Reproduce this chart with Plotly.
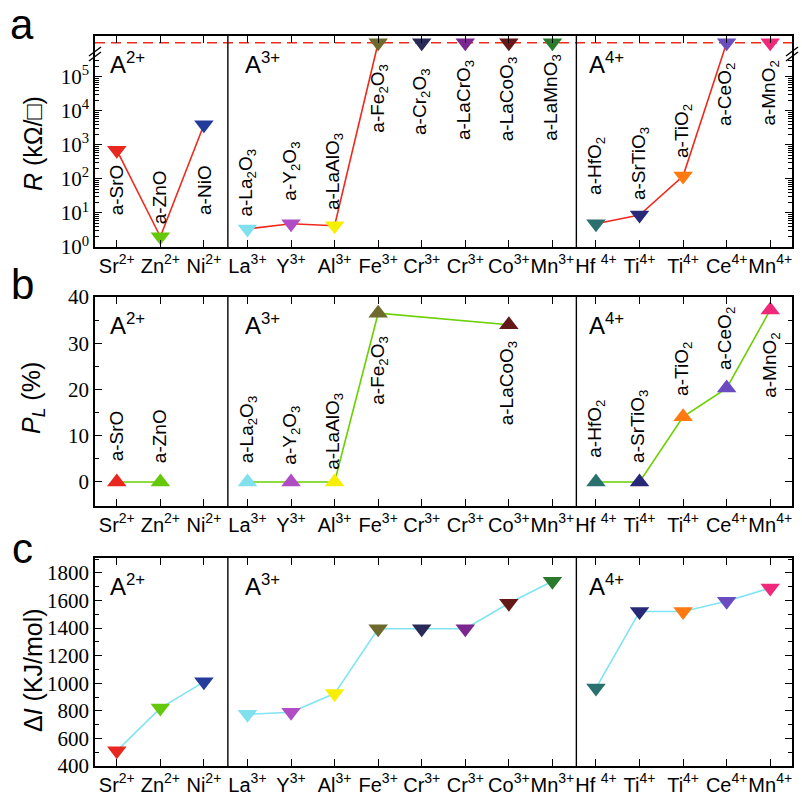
import plotly.graph_objects as go

# ---------------- data ----------------
cations = ["Sr<sup>2+</sup>", "Zn<sup>2+</sup>", "Ni<sup>2+</sup>", "La<sup>3+</sup>", "Y<sup>3+</sup>",
           "Al<sup>3+</sup>", "Fe<sup>3+</sup>", "Cr<sup>3+</sup>", "Cr<sup>3+</sup>", "Co<sup>3+</sup>",
           "Mn<sup>3+</sup>", "Hf <sup>4+</sup>", "Ti<sup>4+</sup>", "Ti<sup>4+</sup>", "Ce<sup>4+</sup>",
           "Mn<sup>4+</sup>"]
materials = ["a-SrO", "a-ZnO", "a-NiO", "a-La<sub>2</sub>O<sub>3</sub>", "a-Y<sub>2</sub>O<sub>3</sub>",
             "a-LaAlO<sub>3</sub>", "a-Fe<sub>2</sub>O<sub>3</sub>", "a-Cr<sub>2</sub>O<sub>3</sub>",
             "a-LaCrO<sub>3</sub>", "a-LaCoO<sub>3</sub>", "a-LaMnO<sub>3</sub>", "a-HfO<sub>2</sub>",
             "a-SrTiO<sub>3</sub>", "a-TiO<sub>2</sub>", "a-CeO<sub>2</sub>", "a-MnO<sub>2</sub>"]
group = [0, 0, 0, 1, 1, 1, 1, 1, 1, 1, 1, 2, 2, 2, 2, 2]
group_names = ["A<sup>2+</sup>", "A<sup>3+</sup>", "A<sup>4+</sup>"]
colors = ["#e8281e", "#66c80a", "#233c9c", "#80e0ee", "#b04cc4", "#f8ee00", "#6e6a2e", "#2a2a58",
          "#7a2890", "#641818", "#2a7a2e", "#2a706e", "#282878", "#ff7a10", "#6a4cc0", "#f0287a"]

R_OFF = 1e6  # off-scale (insulating) value shown above the axis break
R_kohm = [700, 2.0, 3900, 3.4, 4.8, 4.2, R_OFF, R_OFF, R_OFF, R_OFF, R_OFF, 4.8, 8.7, 122, R_OFF, R_OFF]
P_L = [0, 0, None, 0, 0, 0, 36.5, None, None, 34.0, None, 0, 0, 14.1, 20.3, 37.2]
dI = [510, 820, 1010, 775, 790, 925, 1395, 1395, 1395, 1580, 1740, 965, 1520, 1520, 1595, 1690]

# label anchor (bottom of rotated text) positions
lab_a = [0.88, 0.62, 0.88, 0.85, 1.29, 1.03, 3.29, 3.24, 3.09, 3.06, 3.06, 1.47, 1.32, 2.56, 3.5, 3.5]
lab_b = [4.1, 3.7, None, 3.7, 3.2, 2.2, 16.2, None, None, 11.9, None, 4.8, 3.7, 18.2, 23.8, 17.7]

# ---------------- helpers ----------------
W, H = 802, 796
def pxx(x): return x / W
def pyy(y): return 1 - y / H

SANS = "Liberation Sans, Arial, sans-serif"
SERIF = "Liberation Serif, Times New Roman, serif"
N = len(cations)
xs = list(range(N))

fig = go.Figure()

line_a = "#ee2a1c"
line_b = "#6bd000"
line_c = "#80e4f2"

# ---- panel a ----
fig.add_trace(go.Scatter(x=[-0.5, N - 0.5], y=[R_OFF, R_OFF], mode="lines",
                         line=dict(color=line_a, width=1.6, dash="10px,6px"), xaxis="x", yaxis="y",
                         showlegend=False, hoverinfo="skip"))
for g in range(3):
    gx, gy = [], []
    for i in range(N):
        if group[i] != g:
            continue
        gx.append(i)
        gy.append(R_kohm[i])
        if R_kohm[i] >= R_OFF:
            break
    fig.add_trace(go.Scatter(x=gx, y=gy, mode="lines", line=dict(color=line_a, width=1.6),
                             xaxis="x", yaxis="y", showlegend=False))
fig.add_trace(go.Scatter(x=xs, y=R_kohm, mode="markers",
                         marker=dict(symbol="triangle-down", size=17, color=colors, line=dict(width=0)),
                         xaxis="x", yaxis="y", showlegend=False))

# ---- panel b ----
for g in range(3):
    gx = [i for i in range(N) if group[i] == g and P_L[i] is not None]
    gy = [P_L[i] for i in gx]
    fig.add_trace(go.Scatter(x=gx, y=gy, mode="lines", line=dict(color=line_b, width=1.6),
                             xaxis="x2", yaxis="y2", showlegend=False))
bx = [i for i in range(N) if P_L[i] is not None]
fig.add_trace(go.Scatter(x=bx, y=[P_L[i] for i in bx], mode="markers",
                         marker=dict(symbol="triangle-up", size=17, color=[colors[i] for i in bx], line=dict(width=0)),
                         xaxis="x2", yaxis="y2", showlegend=False))

# ---- panel c ----
for g in range(3):
    gx = [i for i in range(N) if group[i] == g]
    fig.add_trace(go.Scatter(x=gx, y=[dI[i] for i in gx], mode="lines", line=dict(color=line_c, width=1.6),
                             xaxis="x3", yaxis="y3", showlegend=False))
fig.add_trace(go.Scatter(x=xs, y=dI, mode="markers",
                         marker=dict(symbol="triangle-down", size=17, color=colors, line=dict(width=0)),
                         xaxis="x3", yaxis="y3", showlegend=False))

# ---------------- axes ----------------
xdom = [pxx(95), pxx(792)]
doms = {"a": [pyy(247), pyy(36)], "b": [pyy(506), pyy(297)], "c": [pyy(766), pyy(558)]}

def xax(anchor):
    return dict(domain=xdom, range=[-0.5, N - 0.5], tickmode="array", tickvals=xs, ticktext=cations,
                tickangle=0, automargin=False,
                ticks="inside", ticklen=7, tickwidth=1.3, tickcolor="black", showline=True, linecolor="black",
                linewidth=1.6, mirror="ticks", showgrid=False, zeroline=False, anchor=anchor,
                tickfont=dict(family=SANS, size=20, color="black"))

def yax(anchor, dom, **kw):
    d = dict(domain=dom, ticks="inside", ticklen=7, tickwidth=1.3, tickcolor="black", showline=True,
             linecolor="black", linewidth=1.6, mirror="ticks", showgrid=False, zeroline=False, anchor=anchor,
             automargin=False, tickfont=dict(family=SERIF, size=21, color="black"))
    d.update(kw)
    return d

log_major = [10 ** k for k in range(6)]
log_minor = [m * 10 ** k for k in range(6) for m in range(2, 10) if m * 10 ** k < 10 ** 5.5]

fig.update_layout(
    width=W, height=H, margin=dict(l=0, r=0, t=0, b=0, pad=0, autoexpand=False),
    paper_bgcolor="white", plot_bgcolor="white",
    xaxis=xax("y"), xaxis2=xax("y2"), xaxis3=xax("y3"),
    yaxis=yax("x", doms["a"], type="log", range=[0, 6.2], tickmode="array", tickvals=log_major,
              ticktext=["10<sup>%d</sup>" % k for k in range(6)],
              minor=dict(tickmode="array", tickvals=log_minor, ticks="inside", ticklen=4, tickcolor="black", showgrid=False)),
    yaxis2=yax("x2", doms["b"], range=[-5.2, 40], tickmode="array", tickvals=[0, 10, 20, 30, 40],
               minor=dict(dtick=5, ticks="inside", ticklen=4, tickcolor="black", showgrid=False)),
    yaxis3=yax("x3", doms["c"], range=[400, 1908], tickmode="array",
               tickvals=[400, 600, 800, 1000, 1200, 1400, 1600, 1800],
               minor=dict(dtick=100, ticks="inside", ticklen=4, tickcolor="black", showgrid=False)),
)

# separators between valence groups
shapes = []
for yr in ["y", "y2", "y3"]:
    xr = "x" if yr == "y" else "x" + yr[1:]
    for xv in [2.55, 10.55]:
        shapes.append(dict(type="line", xref=xr, yref=yr + " domain", x0=xv, x1=xv, y0=0, y1=1,
                           line=dict(color="black", width=1.4)))
# axis break marks on panel a
for xe in [95, 792]:
    for dy in [0, 5]:
        shapes.append(dict(type="line", xref="paper", yref="paper",
                           x0=pxx(xe - 6), x1=pxx(xe + 6), y0=pyy(56 + dy), y1=pyy(47 + dy),
                           line=dict(color="black", width=1.4)))
fig.update_layout(shapes=shapes)

ann = []
# material labels
for i in range(N):
    ann.append(dict(x=i, y=lab_a[i], xref="x", yref="y", text=materials[i], textangle=-90,
                    xanchor="center", yanchor="bottom", showarrow=False,
                    font=dict(family=SANS, size=19, color="black")))
    if lab_b[i] is not None:
        ann.append(dict(x=i, y=lab_b[i], xref="x2", yref="y2", text=materials[i], textangle=-90,
                        xanchor="center", yanchor="bottom", showarrow=False,
                        font=dict(family=SANS, size=19, color="black")))
# group labels
gx_left = [-0.2, 2.9, 10.8]
for yr, xr in [("y", "x"), ("y2", "x2"), ("y3", "x3")]:
    for g in range(3):
        ann.append(dict(x=gx_left[g], y=0.87, xref=xr, yref=yr + " domain", text=group_names[g],
                        xanchor="left", yanchor="middle", showarrow=False,
                        font=dict(family=SANS, size=24, color="black")))
# axis titles
titles = [("<i>R</i> (kΩ/□)", 144), ("<i>P</i><sub><i>L</i></sub> (%)", 398), ("Δ<i>I</i> (KJ/mol)", 670)]
for t, yc in titles:
    ann.append(dict(x=pxx(33), y=pyy(yc), xref="paper", yref="paper", text=t, textangle=-90,
                    xanchor="center", yanchor="middle", showarrow=False,
                    font=dict(family=SANS, size=25, color="black")))
# panel letters
for t, yc in [("a", 24), ("b", 284), ("c", 548)]:
    ann.append(dict(x=pxx(22), y=pyy(yc), xref="paper", yref="paper", text=t,
                    xanchor="center", yanchor="middle", showarrow=False,
                    font=dict(family=SANS, size=42, color="black")))
fig.update_layout(annotations=ann)

fig.write_html("out.html", config={"displayModeBar": False},
               post_script="document.body.style.margin='0';document.body.style.overflow='hidden';")
